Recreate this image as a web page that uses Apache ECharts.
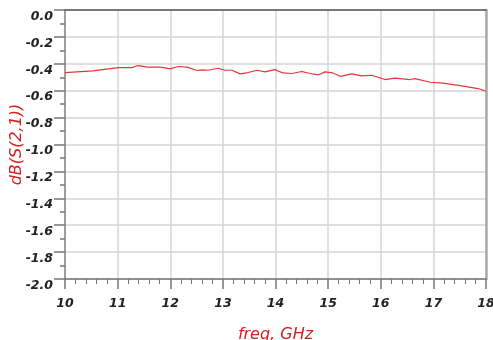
<!DOCTYPE html>
<html><head><meta charset="utf-8">
<script src="https://cdn.jsdelivr.net/npm/echarts@6/dist/echarts.min.js"></script>
<style>html,body{margin:0;padding:0;background:#fff}#c{width:493px;height:340px}</style>
</head><body><div id="c"></div>
<script>
const freq = [10.00,10.53,11.01,11.27,11.39,11.56,11.81,12.00,12.15,12.32,12.51,12.60,12.72,12.91,13.04,13.17,13.33,13.48,13.65,13.80,13.99,14.14,14.31,14.50,14.66,14.81,14.94,15.09,15.23,15.45,15.64,15.83,16.08,16.27,16.56,16.65,16.94,17.18,17.51,17.85,18.00];
const s21 = [-0.465,-0.453,-0.428,-0.428,-0.413,-0.425,-0.425,-0.438,-0.420,-0.425,-0.450,-0.445,-0.448,-0.433,-0.448,-0.448,-0.475,-0.465,-0.448,-0.460,-0.443,-0.468,-0.472,-0.457,-0.472,-0.483,-0.460,-0.468,-0.493,-0.475,-0.490,-0.485,-0.517,-0.507,-0.517,-0.510,-0.537,-0.543,-0.562,-0.584,-0.604];
const xTicks = [10,11,12,13,14,15,16,17,18];
const yTickLabels = ['0.0','-0.2','-0.4','-0.6','-0.8','-1.0','-1.2','-1.4','-1.6','-1.8','-2.0'];
const xName = 'freq, GHz';
const yName = 'dB(S(2,1))';

const lblFont = {fontFamily:'DejaVu Sans', fontStyle:'italic', fontWeight:'bold', fontSize:12.5, color:'#222'};
const chart = echarts.init(document.getElementById('c'));
chart.setOption({
  animation:false,
  grid:{left:65,top:10,right:7,bottom:61,show:false,containLabel:false,outerBoundsMode:'none'},
  xAxis:[{
    type:'value', min:xTicks[0], max:xTicks[xTicks.length-1], interval:1,
    name:xName, nameLocation:'middle', nameGap:48, nameMoveOverlap:false,
    nameTextStyle:{color:'#d42020', fontStyle:'italic', fontSize:16, fontFamily:'DejaVu Sans'},
    axisLine:{show:true, onZero:false, lineStyle:{color:'#777', width:1.5}},
    axisTick:{show:true, inside:false, length:10, lineStyle:{color:'#777', width:1.5}},
    minorTick:{show:true, splitNumber:5, length:5, lineStyle:{color:'#777', width:1}},
    axisLabel:Object.assign({margin:18}, lblFont),
    splitLine:{show:true, lineStyle:{color:'#d6d6d6', width:1.5}}
  },{
    type:'value', position:'top', min:10, max:18,
    axisLine:{show:true, lineStyle:{color:'#555', width:1.5}},
    axisTick:{show:false}, axisLabel:{show:false}, splitLine:{show:false}
  }],
  yAxis:[{
    type:'value', min:-2, max:0, interval:0.2,
    name:yName, nameLocation:'middle', nameGap:40, nameMoveOverlap:false,
    nameTextStyle:{color:'#d42020', fontStyle:'italic', fontSize:16, fontFamily:'DejaVu Sans'},
    axisLine:{show:true, onZero:false, lineStyle:{color:'#888', width:1.5}},
    axisTick:{show:true, length:11, lineStyle:{color:'#777', width:1.5}},
    minorTick:{show:true, splitNumber:2, length:5, lineStyle:{color:'#777', width:1.5}},
    axisLabel:Object.assign({margin:12, verticalAlign:'top',
      formatter:function(v){ const i = Math.round(-v/0.2); return yTickLabels[i]; }}, lblFont),
    splitLine:{show:true, lineStyle:{color:'#d6d6d6', width:1.5}}
  },{
    type:'value', position:'right', min:-2, max:0,
    axisLine:{show:true, lineStyle:{color:'#aaa', width:2.5}},
    axisTick:{show:false}, axisLabel:{show:false}, splitLine:{show:false}
  }],
  series:[{
    type:'line', showSymbol:false, data:freq.map((f,i)=>[f,s21[i]]),
    lineStyle:{color:'#e03838', width:1.2}, itemStyle:{color:'#e03838'}
  }]
});
</script></body></html>
